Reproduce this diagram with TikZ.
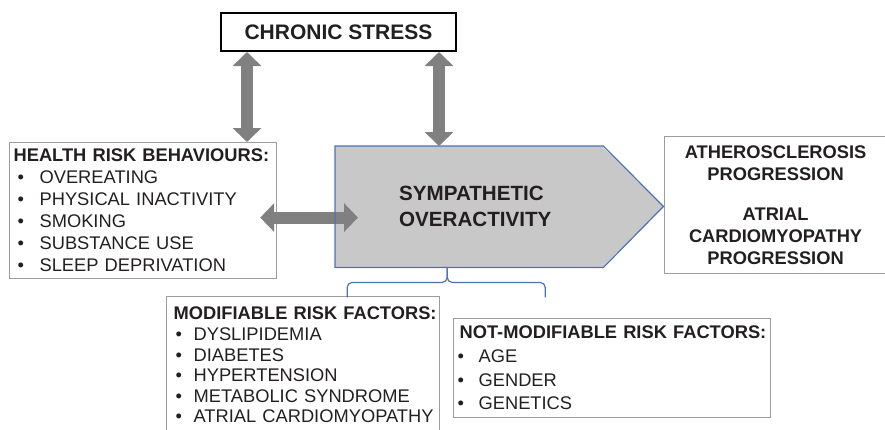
\documentclass[tikz,border=0pt]{standalone}
\usepackage{fontspec}
\setmainfont{Liberation Sans}
\usepackage{xcolor}
\usetikzlibrary{arrows.meta}

\definecolor{arrowgray}{HTML}{808080}
\definecolor{boxgray}{HTML}{9C9C9C}
\definecolor{sympfill}{HTML}{C8C8C8}
\definecolor{sympblue}{HTML}{4A74B6}
\definecolor{inkdark}{HTML}{231F20}

\newcommand{\riskhead}[1]{\mbox{\bfseries #1}}
\newcommand{\riskitem}[3]{\mbox{\hspace*{#1}\makebox[#2][l]{\textbullet}#3}}

\begin{document}
\begin{tikzpicture}[x=1pt, y=-1pt,
  every node/.style={text=inkdark, inner ysep=0pt},
  listbox/.style={draw=boxgray, line width=1.2pt, anchor=north west, align=left, font=\fontsize{18.3}{22}\selectfont},
  fatarrow/.style={draw=arrowgray, line width=12pt, {Triangle[length=14pt,width=28pt]}-{Triangle[length=14pt,width=28pt]}},
  bracket/.style={draw=sympblue, line width=1.2pt, rounded corners=5pt}]
  \useasboundingbox (0,0) rectangle (885,429);
  \clip (0,0) rectangle (885,429);

  \node (stress) [draw=black, line width=2pt, anchor=north west, minimum width=235pt, minimum height=38pt, font=\fontsize{21}{25}\selectfont\bfseries] at (220,12) {CHRONIC STRESS};
  \node (health) [listbox, minimum width=267pt, minimum height=136pt, inner xsep=4pt, text width=259pt] at (9,142)
    {\riskhead{HEALTH RISK BEHAVIOURS:}\\
     \riskitem{4pt}{22pt}{OVEREATING}\\
     \riskitem{4pt}{22pt}{PHYSICAL INACTIVITY}\\
     \riskitem{4pt}{22pt}{SMOKING}\\
     \riskitem{4pt}{22pt}{SUBSTANCE USE}\\
     \riskitem{4pt}{22pt}{SLEEP DEPRIVATION}};
  \node (symp) [fill=sympfill, anchor=north west, minimum width=268pt, minimum height=121pt, inner sep=0pt, align=left, text width=168pt, font=\fontsize{20.6}{26}\selectfont\bfseries] at (335,146)
    {\hspace*{14pt}SYMPATHETIC\\\hspace*{14pt}OVERACTIVITY};
  \fill[sympfill] ([xshift=-1.5pt]symp.north east) -- ++(61.5,60.5) -- ([xshift=-1.5pt]symp.south east) -- cycle;
  \node (outcome) [draw=boxgray, line width=1.2pt, anchor=north west, minimum width=222pt, minimum height=137pt, align=center, font=\fontsize{18.3}{22}\selectfont\bfseries] at (664,136)
    {ATHEROSCLEROSIS\\PROGRESSION\\[18pt]ATRIAL\\CARDIOMYOPATHY\\PROGRESSION};
  \node (modif) [listbox, minimum width=273pt, minimum height=137pt, inner xsep=7pt, text width=259pt, font=\fontsize{18.3}{20.6}\selectfont] at (166,296)
    {\riskhead{MODIFIABLE RISK FACTORS:}\\
     \riskitem{2pt}{18pt}{DYSLIPIDEMIA}\\
     \riskitem{2pt}{18pt}{DIABETES}\\
     \riskitem{2pt}{18pt}{HYPERTENSION}\\
     \riskitem{2pt}{18pt}{METABOLIC SYNDROME}\\
     \riskitem{2pt}{18pt}{ATRIAL CARDIOMYOPATHY}};
  \node (notmod) [listbox, minimum width=317pt, minimum height=99pt, inner xsep=6pt, text width=305pt, font=\fontsize{18.3}{23.7}\selectfont] at (453,318)
    {\riskhead{NOT-MODIFIABLE RISK FACTORS:}\\
     \riskitem{-2pt}{21pt}{AGE}\\
     \riskitem{-2pt}{21pt}{GENDER}\\
     \riskitem{-2pt}{21pt}{GENETICS}};

  \coordinate (stressL) at ([xshift=27pt]stress.south west);
  \coordinate (stressR) at ([xshift=-18pt]stress.south east);
  \coordinate (healthR) at ([xshift=-17pt, yshift=-7pt]health.east);
  \coordinate (sympL) at ([xshift=23pt]symp.west);
  \coordinate (bracetop) at ([xshift=-22pt]symp.south);

  \draw[fatarrow] (stressL) -- (stressL |- health.north);
  \draw[fatarrow] (stressR) -- (stressR |- symp.north);
  \draw[fatarrow] (healthR) -- (healthR -| sympL);

  \draw[sympblue, line width=1.2pt] (symp.north west) -- (symp.north east) -- ++(60,60.5) -- (symp.south east) -- (symp.south west) -- cycle;
  \draw[bracket] (bracetop) -- ++(0,15) -- ++(-100,0) -- ++(0,15);
  \draw[bracket] (bracetop) -- ++(0,15) -- ++(98,0) -- ++(0,15);
\end{tikzpicture}
\end{document}
